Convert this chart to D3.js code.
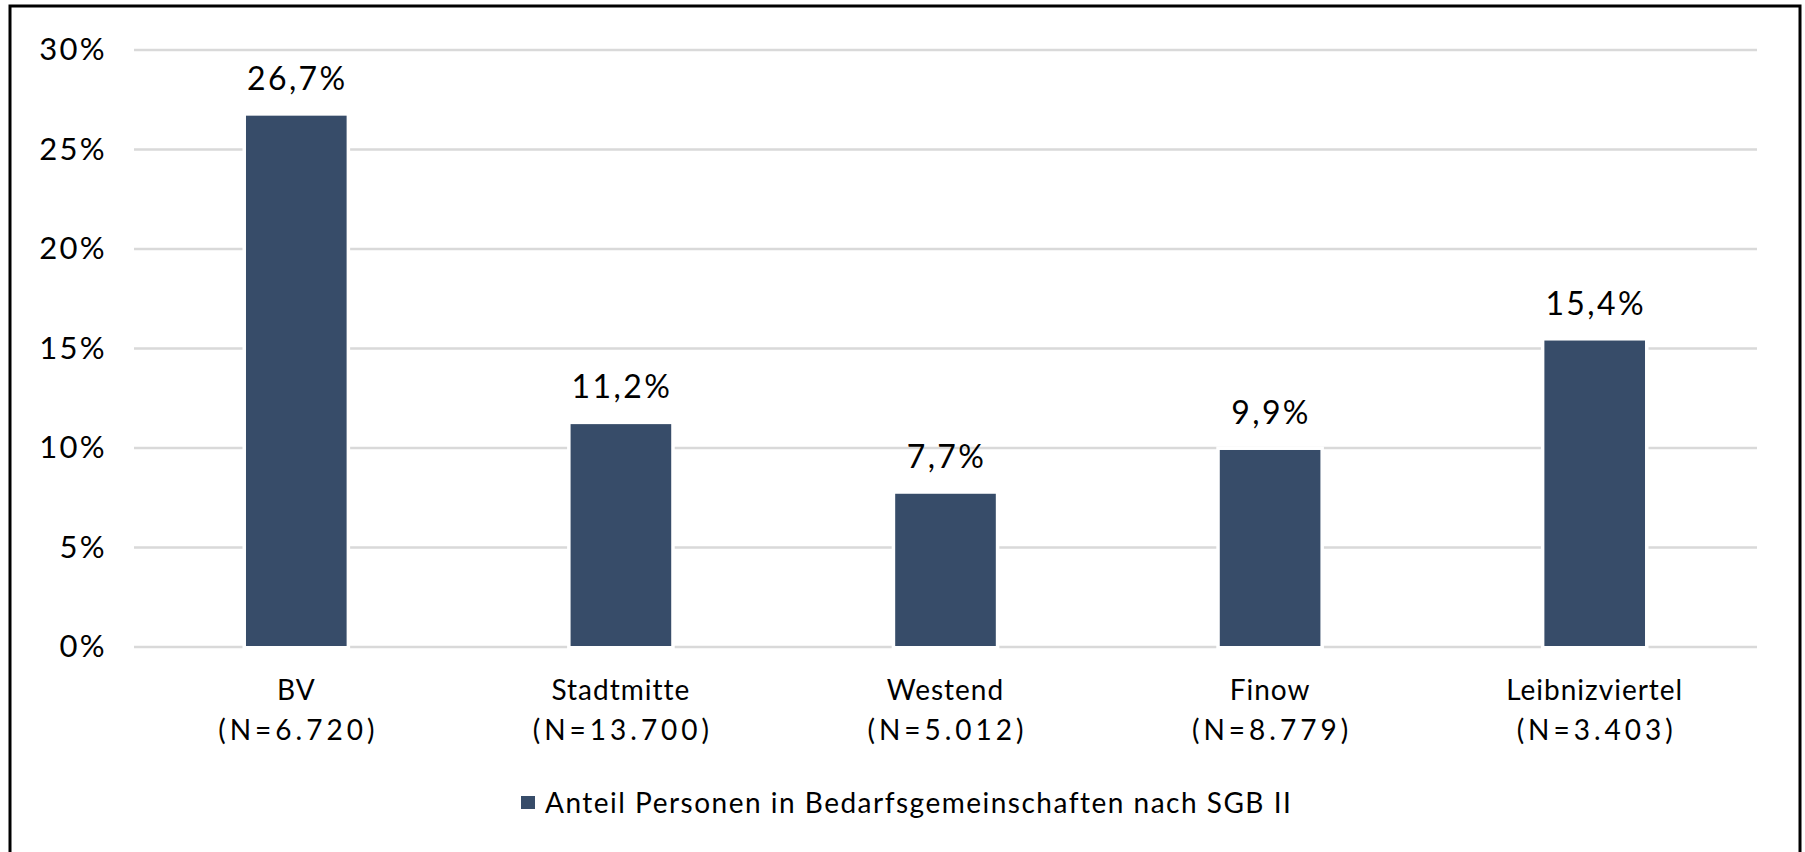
<!DOCTYPE html>
<html>
<head>
<meta charset="utf-8">
<script src="https://cdn.jsdelivr.net/npm/d3@7"></script>
<style>
  body { margin: 0; background: #fff; }
  text { font-family: "Century Gothic", "Futura", Lato, sans-serif; fill: #000; }
</style>
</head>
<body>
<div id="chart"></div>
<script>
// data
var districts = ["BV", "Stadtmitte", "Westend", "Finow", "Leibnizviertel"];
var counts = ["6.720", "13.700", "5.012", "8.779", "3.403"];
var shares = [26.7, 11.2, 7.7, 9.9, 15.4];
var yTicks = [0, 5, 10, 15, 20, 25, 30];
var seriesName = "Anteil Personen in Bedarfsgemeinschaften nach SGB II";

var W = 1805, H = 852;
var barColor = "#374c69";

var svg = d3.select("#chart").append("svg")
  .attr("width", W)
  .attr("height", H);

// outer frame
svg.append("rect")
  .attr("x", 10).attr("y", 6)
  .attr("width", 1790).attr("height", 870)
  .attr("fill", "none")
  .attr("stroke", "#000")
  .attr("stroke-width", 3);

var x = d3.scaleBand()
  .domain(districts)
  .range([134, 1757])
  .paddingInner(0.69)
  .paddingOuter(0.345);

var y = d3.scaleLinear()
  .domain([0, 30])
  .range([647, 50]);

// gridlines
svg.append("g").selectAll("line")
  .data(yTicks)
  .enter()
  .append("line")
  .attr("x1", 134).attr("x2", 1757)
  .attr("y1", function(d){ return y(d); })
  .attr("y2", function(d){ return y(d); })
  .attr("stroke", "#d9d9d9")
  .attr("stroke-width", 2.5);

// y axis labels
svg.append("g").selectAll("text")
  .data(yTicks)
  .enter()
  .append("text")
  .attr("x", 107)
  .attr("y", function(d){ return y(d) + 10; })
  .attr("text-anchor", "end")
  .style("font-size", "31px")
  .style("letter-spacing", "2.3px")
  .text(function(d){ return d + "%"; });

var rows = districts.map(function(d, i){
  return { name: d, n: counts[i], v: shares[i] };
});

// bars, white halo like the original
svg.append("g").selectAll("rect")
  .data(rows)
  .enter()
  .append("rect")
  .attr("x", function(d){ return x(d.name); })
  .attr("y", function(d){ return y(d.v); })
  .attr("width", x.bandwidth())
  .attr("height", function(d){ return y(0) - y(d.v) - 1; })
  .attr("fill", barColor)
  .attr("stroke", "#fff")
  .attr("stroke-width", 7)
  .style("paint-order", "stroke");

// value labels
svg.append("g").selectAll("text")
  .data(rows)
  .enter()
  .append("text")
  .attr("x", function(d){ return x(d.name) + x.bandwidth() / 2 + 1; })
  .attr("y", function(d){ return y(d.v) - 26; })
  .attr("text-anchor", "middle")
  .style("font-size", "32px")
  .style("letter-spacing", "2.4px")
  .text(function(d){ return String(d.v).replace(".", ",") + "%"; });

// category labels (two lines)
var cat = svg.append("g").selectAll("text")
  .data(rows)
  .enter()
  .append("text")
  .attr("text-anchor", "middle")
  .style("font-size", "28px");
cat.append("tspan")
  .attr("x", function(d){ return x(d.name) + x.bandwidth() / 2; })
  .attr("y", 700)
  .style("letter-spacing", "1px")
  .text(function(d){ return d.name; });
cat.append("tspan")
  .attr("x", function(d){ return x(d.name) + x.bandwidth() / 2 + 2; })
  .attr("y", 740)
  .style("letter-spacing", "4px")
  .text(function(d){ return "(N=" + d.n + ")"; });

// legend
var legend = svg.append("g");
legend.append("rect")
  .attr("x", 521).attr("y", 796)
  .attr("width", 14).attr("height", 13)
  .attr("fill", barColor);
legend.append("text")
  .attr("x", 545).attr("y", 813)
  .style("font-size", "28px")
  .style("letter-spacing", "1.5px")
  .text(seriesName);
</script>
</body>
</html>
